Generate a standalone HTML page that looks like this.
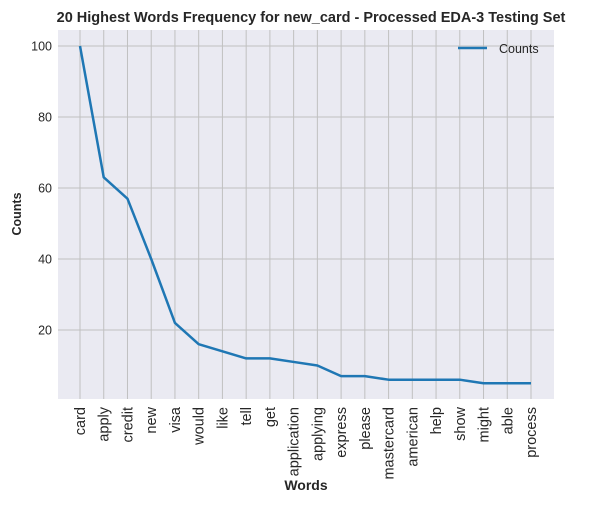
<!DOCTYPE html>
<html><head><meta charset="utf-8"><style>
body{margin:0;background:#fff;width:607px;height:503px;overflow:hidden;font-family:"Liberation Sans",Arial,sans-serif}
</style></head><body>
<svg id="chart" width="607" height="503" xmlns="http://www.w3.org/2000/svg" font-family="Liberation Sans, Arial, sans-serif">
<text x="311" y="22" text-anchor="middle" font-size="14.5" font-weight="bold" fill="#262626">20 Highest Words Frequency for new_card - Processed EDA-3 Testing Set</text>
<rect x="58" y="30" width="496" height="369" fill="#eaeaf2"/>
<g id="grid"></g><g id="ticks"></g>
<polyline id="line" fill="none" stroke="#1f77b4" stroke-width="2.5" stroke-linejoin="round"/>
<g>
<line x1="458" y1="48" x2="487" y2="48" stroke="#1f77b4" stroke-width="2.5"/>
<text x="499" y="53" font-size="12.5" fill="#262626">Counts</text>
</g>
<text x="306" y="490" text-anchor="middle" font-size="14" font-weight="bold" fill="#262626">Words</text>
<text transform="translate(21,214) rotate(-90)" text-anchor="middle" font-size="12.5" font-weight="bold" fill="#262626">Counts</text>
</svg>
<script>
const words=["card","apply","credit","new","visa","would","like","tell","get","application","applying","express","please","mastercard","american","help","show","might","able","process"];
const counts=[100,63,57,40,22,16,14,12,12,11,10,7,7,6,6,6,6,5,5,5];
const yTicks=[20,40,60,80,100];
const NS="http://www.w3.org/2000/svg";
const xS=i=>80+i*(531-80)/19;
const yS=v=>401-v*3.55;
const grid=document.getElementById('grid'),ticks=document.getElementById('ticks');
function mk(tag,attrs,parent){const e=document.createElementNS(NS,tag);for(const k in attrs)e.setAttribute(k,attrs[k]);parent.appendChild(e);return e;}
yTicks.forEach(t=>{
  const g=mk('line',{x1:58,x2:554,y1:yS(t),y2:yS(t),stroke:'#c0c0c0','stroke-width':1},grid);
  
  
  const l=mk('text',{x:52,y:yS(t)+4.5,'text-anchor':'end','font-size':12.5,fill:'#262626'},ticks);
  l.textContent=t;
  
  
});
words.forEach((w,i)=>{
  const x=xS(i);
  const g=mk('line',{x1:x,x2:x,y1:30,y2:399,stroke:'#c0c0c0','stroke-width':1},grid);
  
  
  const l=mk('text',{transform:`translate(${x+5},407) rotate(-90)`,'text-anchor':'end','font-size':14.5,fill:'#262626'},ticks);
  l.textContent=w;
  
  
});
document.getElementById('line').setAttribute('points',counts.map((v,i)=>xS(i)+','+yS(v)).join(' '));
</script>
</body></html>
